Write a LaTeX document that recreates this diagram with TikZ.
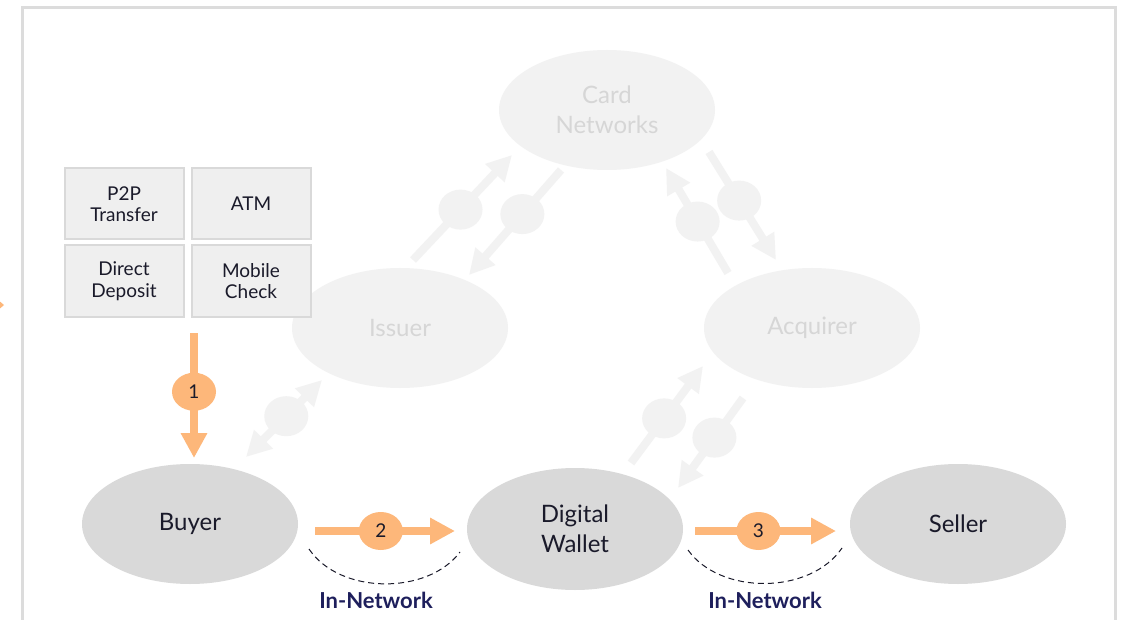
\documentclass[tikz,border=0pt]{standalone}
\usepackage{fontspec}
\setmainfont{Lato}
\usetikzlibrary{arrows.meta,shapes.geometric}
\definecolor{orng}{HTML}{FDB77A}
\definecolor{fade}{HTML}{F2F2F2}
\definecolor{fadetext}{HTML}{D6D6D6}
\definecolor{solidfill}{HTML}{D9D9D9}
\definecolor{ink}{HTML}{1A1A2A}
\definecolor{navy}{HTML}{1E1F5C}
\definecolor{framecol}{HTML}{DCDCDC}
\definecolor{boxfill}{HTML}{EFEFEF}
\begin{document}
\begin{tikzpicture}[x=1pt,y=-1pt,
  ent/.style={ellipse, inner sep=0pt, minimum width=216pt, minimum height=120pt, align=center,
    font=\fontsize{24}{30}\selectfont},
  fadedent/.style={ent, fill=fade, text=fadetext},
  solident/.style={ent, fill=solidfill, text=ink},
  srcbox/.style={rectangle, draw=solidfill, line width=2pt, fill=boxfill, minimum width=119pt,
    minimum height=71pt, inner sep=0pt, align=center, font=\fontsize{19}{21.5}\selectfont, text=ink},
  badge/.style={ellipse, fill=orng, inner sep=0pt, minimum width=44pt, minimum height=38pt,
    font=\fontsize{19}{20}\selectfont, text=ink},
  fbadge/.style={ellipse, fill=fade, inner sep=0pt, minimum width=44pt, minimum height=40pt},
  flow/.style={draw=orng, line width=8pt, -{Triangle[width=25pt,length=25pt]}},
  fflow/.style={draw=fade, line width=8pt, -{Triangle[width=25pt,length=25pt]}},
  fflow2/.style={draw=fade, line width=8pt, {Triangle[width=25pt,length=25pt]}-{Triangle[width=25pt,length=25pt]}},
  netarc/.style={draw=ink, line width=1pt, dash pattern=on 6pt off 4pt},
  netlabel/.style={font=\bfseries\fontsize{22}{24}\selectfont, text=navy}
]
\useasboundingbox (0,0) rectangle (1124,620);
\fill[white] (0,0) rectangle (1124,620);

% frame
\draw[framecol, line width=3pt] (22,625) -- (22,8) -- (1115,8) -- (1115,625);
% clipped orange tip at the left edge
\fill[orng] (-10,293) -- (4,305) -- (-10,317) -- cycle;

% faded network
\node[fadedent] (card) at (607,110) {Card\\Networks};
\node[fadedent] (issuer) at (400,328) {Issuer};
\node[fadedent] (acquirer) at (812,328) {Acquirer};

% solid entities
\node[solident] (buyer) at (190,524) {Buyer};
\node[solident, minimum height=122pt] (wallet) at (575,529) {Digital\\Wallet};
\node[solident] (seller) at (958,524) {Seller};

% source boxes
\node[srcbox] (p2p) at (124,204) {P2P\\Transfer};
\node[srcbox] (atm) at (251,204) {ATM};
\node[srcbox] (direct) at (124,281) {Direct\\Deposit};
\node[srcbox] (mobile) at (251,281) {Mobile\\Check};

% faded connector end points
\coordinate (a1) at (413,260); \coordinate (a2) at (512,155);
\coordinate (b1) at (561,170); \coordinate (b2) at (469,275);
\coordinate (c1) at (728,273); \coordinate (c2) at (666,168);
\coordinate (d1) at (709,152); \coordinate (d2) at (776,260);
\coordinate (e1) at (631,463); \coordinate (e2) at (703,366);
\coordinate (f1) at (743,398); \coordinate (f2) at (678,488);
\coordinate (g1) at (322,380); \coordinate (g2) at (246,457);

\draw[fflow] (a1) -- node[fbadge, pos=0.48] (ba) {} (a2);
\draw[fflow] (b1) -- node[fbadge, pos=0.42] (bb) {} (b2);
\draw[fflow] (c1) -- node[fbadge, pos=0.49] (bc) {} (c2);
\draw[fflow] (d1) -- node[fbadge, pos=0.45] (bd) {} (d2);
\draw[fflow] (e1) -- node[fbadge, pos=0.46] (be) {} (e2);
\draw[fflow] (f1) -- node[fbadge, pos=0.44] (bf) {} (f2);
\draw[fflow2] (g1) -- node[fbadge, pos=0.47] (bg) {} (g2);

% orange flows
\coordinate (s1) at (194,333); \coordinate (t1) at (194,458);
\coordinate (s2) at (315,531); \coordinate (t2) at (455,531);
\coordinate (s3) at (695,531); \coordinate (t3) at (836,531);
\draw[flow] (s1) -- node[badge, pos=0.47] (n1) {1} (t1);
\draw[flow] (s2) -- node[badge, pos=0.47] (n2) {2} (t2);
\draw[flow] (s3) -- node[badge, pos=0.45] (n3) {3} (t3);

% in-network arcs
\coordinate (h1) at (309,549); \coordinate (h2) at (460,552);
\coordinate (k1) at (688,550); \coordinate (k2) at (842,548);
\draw[netarc] (h1) .. controls (340,595) and (428,595) .. (h2);
\draw[netarc] (k1) .. controls (720,595) and (810,595) .. (k2);
\node[netlabel] (in1) at (376,600) {In-Network};
\node[netlabel] (in2) at (765,600) {In-Network};
\end{tikzpicture}
\end{document}
